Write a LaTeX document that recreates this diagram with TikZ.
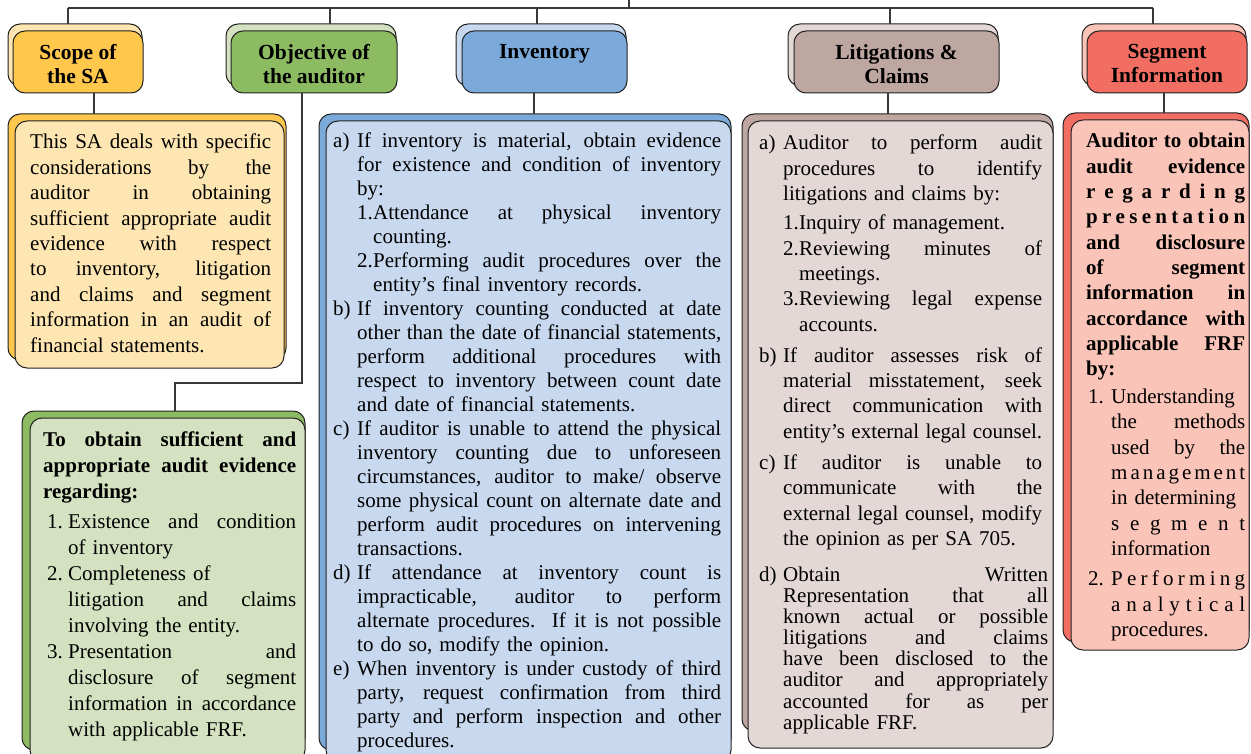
\documentclass[tikz,border=0pt]{standalone}
\usepackage{fontspec}
\setmainfont{Liberation Serif}
\usetikzlibrary{calc}
\setlength\parindent{0pt}
\setlength\parskip{0pt}

\definecolor{scopeD}{HTML}{FFC84C}
\definecolor{scopeL}{HTML}{FEE6B2}
\definecolor{objD}{HTML}{8CBB61}
\definecolor{objL}{HTML}{D5E2C1}
\definecolor{invD}{HTML}{7BAADA}
\definecolor{invL}{HTML}{C8D8EE}
\definecolor{litD}{HTML}{BEA6A1}
\definecolor{litL}{HTML}{E3D8D5}
\definecolor{segD}{HTML}{F26E62}
\definecolor{segL}{HTML}{FAC4B8}
\definecolor{ink}{HTML}{222222}

% extra width for justified lines
\newdimen\xw \xw=0pt
% justified line: [label]{indent}{text}
\newcommand\jline[3][]{\noindent\rlap{#1}\hspace*{#2}\makebox[\dimexpr\hsize-#2+\xw\relax][s]{\spaceskip=0pt\xspaceskip=0pt\strut#3}\par}
% ragged line: [label]{indent}{text}
\newcommand\rline[3][]{\noindent\rlap{#1}\hspace*{#2}{\strut#3}\par}
% box: name, x, y, width, height, fill
\newcommand\bx[6]{\node[boxshape, fill=#6, minimum width=#4pt, minimum height=#5pt] (#1) at (#2,#3) {};}

\tikzset{
  boxshape/.style={draw=ink, line width=1pt, rounded corners=12pt, anchor=north west, inner sep=0pt, outer sep=0pt},
  link/.style={draw=ink!90, line width=1.3pt},
  head/.style={font=\fontsize{21.5}{24}\selectfont\bfseries, align=center, anchor=north, inner sep=0pt},
  body/.style={anchor=base west, inner sep=0pt, font=\fontsize{21}{25.4}\selectfont},
}

\begin{document}
\begin{tikzpicture}[x=1pt,y=-1pt]
\fill[white] (0,0) rectangle (1251,754);
\useasboundingbox (0,0) rectangle (1251,754);

% header boxes (back copy, then front)
\bx{hScopeB}{8}{24}{134}{62}{scopeL}
\bx{hScope}{13}{31}{130}{62}{scopeD}
\bx{hObjB}{226}{24}{170}{62}{objL}
\bx{hObj}{231}{31}{166}{62}{objD}
\bx{hInvB}{456}{24}{170}{62}{invL}
\bx{hInv}{462}{31}{165}{62}{invD}
\bx{hLitB}{788}{24}{210}{62}{litL}
\bx{hLit}{794}{31}{205}{62}{litD}
\bx{hSegB}{1082}{24}{164}{62}{segL}
\bx{hSeg}{1087}{31}{160}{62}{segD}

\node[head] (tScope) at (hScope.north |- 0,44) {Scope of\\the SA};
\node[head] (tObj) at (hObj.north |- 0,44) {Objective of\\the auditor};
\node[head] (tInv) at (hInv.north |- 0,44) {Inventory};
\node[head] (tLit) at (hLit.north |- 0,44) {Litigations \&\\Claims};
\node[head] (tSeg) at (hSeg.north |- 0,44) {Segment\\Information};

% content boxes
\bx{cScopeB}{8}{114}{278}{246}{scopeD}
\bx{cScope}{15}{121}{269}{247}{scopeL}
\bx{cObjB}{22}{411}{283}{339}{objD}
\bx{cObj}{30}{418}{275}{344}{objL}
\bx{cInvB}{319}{114}{412}{636}{invD}
\bx{cInv}{326}{121}{405}{641}{invL}
\bx{cLitB}{742}{114}{311}{617}{litD}
\bx{cLit}{748}{121}{305}{627}{litL}
\bx{cSegB}{1063}{113}{186}{529}{segD}
\bx{cSeg}{1071}{120}{178}{530}{segL}

% connectors
\coordinate (top) at (629,0);
\coordinate (busL) at (68,8);
\coordinate (busR) at (1153,8);
\coordinate (dObj) at (330,8);
\coordinate (dInv) at (537,8);
\coordinate (dLit) at (890,8);
\draw[link] (top) -- (top |- busL);
\draw[link] (busL) -- (busR);
\draw[link] (busL) -- (busL |- hScopeB.north);
\draw[link] (dObj) -- (dObj |- hObjB.north);
\draw[link] (dInv) -- (dInv |- hInvB.north);
\draw[link] (dLit) -- (dLit |- hLitB.north);
\draw[link] (busR) -- (busR |- hSegB.north);

\coordinate (sScope) at (94,0);
\coordinate (sInv) at (534,0);
\coordinate (sLit) at (888,0);
\coordinate (sSeg) at (1164,0);
\coordinate (oA) at (302,0);
\coordinate (oB) at (175,383);
\draw[link] (hScope.south -| sScope) -- (cScopeB.north -| sScope);
\draw[link] (hInv.south -| sInv) -- (cInvB.north -| sInv);
\draw[link] (hLit.south -| sLit) -- (cLitB.north -| sLit);
\draw[link] (hSeg.south -| sSeg) -- (cSegB.north -| sSeg);
\draw[link] (hObj.south -| oA) |- (oB) -- (oB |- cObjB.north);

% texts
\node[body, text width=241pt] (bScope) at (30,149) {%
\jline{0pt}{This SA deals with specific}
\jline{0pt}{considerations by the}
\jline{0pt}{auditor in obtaining}
\jline{0pt}{sufficient appropriate audit}
\jline{0pt}{evidence with respect}
\jline{0pt}{to inventory, litigation}
\jline{0pt}{and claims and segment}
\jline{0pt}{information in an audit of}
\rline{0pt}{financial statements.}};

\node[body, text width=253pt, font=\fontsize{21}{26}\selectfont] (bObj) at (43,446) {%
\jline{0pt}{\bfseries To obtain sufficient and}
\jline{0pt}{\bfseries appropriate audit evidence}
\rline{0pt}{\bfseries regarding:}
\vspace{4pt}
\jline[\hspace*{4pt}1.]{25pt}{Existence and condition}
\rline{25pt}{of inventory}
\rline[\hspace*{4pt}2.]{25pt}{Completeness of}
\jline{25pt}{litigation and claims}
\rline{25pt}{involving the entity.}
\jline[\hspace*{4pt}3.]{25pt}{Presentation and}
\jline{25pt}{disclosure of segment}
\jline{25pt}{information in accordance}
\rline{25pt}{with applicable FRF.}};

\node[body, text width=388pt, font=\fontsize{21}{24}\selectfont] (bInv) at (333,148) {%
\jline[a)]{24pt}{If inventory is material, obtain evidence}
\jline{24pt}{for existence and condition of inventory}
\rline{24pt}{by:}
\jline[\hspace*{24pt}1.]{40pt}{Attendance at physical inventory}
\rline{40pt}{counting.}
\jline[\hspace*{24pt}2.]{40pt}{Performing audit procedures over the}
\rline{40pt}{entity's final inventory records.}
\jline[b)]{24pt}{If inventory counting conducted at date}
\jline{24pt}{other than the date of financial statements,}
\jline{24pt}{perform additional procedures with}
\jline{24pt}{respect to inventory between count date}
\rline{24pt}{and date of financial statements.}
\jline[c)]{24pt}{If auditor is unable to attend the physical}
\jline{24pt}{inventory counting due to unforeseen}
\jline{24pt}{circumstances, auditor to make/ observe}
\jline{24pt}{some physical count on alternate date and}
\jline{24pt}{perform audit procedures on intervening}
\rline{24pt}{transactions.}
\jline[d)]{24pt}{If attendance at inventory count is}
\jline{24pt}{impracticable, auditor to perform}
\jline{24pt}{alternate procedures. If it is not possible}
\rline{24pt}{to do so, modify the opinion.}
\jline[e)]{24pt}{When inventory is under custody of third}
\jline{24pt}{party, request confirmation from third}
\jline{24pt}{party and perform inspection and other}
\rline{24pt}{procedures.}};

\node[body, text width=283pt, font=\fontsize{21}{25.3}\selectfont] (bLit) at (759,150) {%
\jline[a)]{24pt}{Auditor to perform audit}
\jline{24pt}{procedures to identify}
\rline{24pt}{litigations and claims by:}
\vspace{4pt}
\rline[\hspace*{24pt}1.]{40pt}{Inquiry of management.}
\jline[\hspace*{24pt}2.]{40pt}{Reviewing minutes of}
\rline{40pt}{meetings.}
\jline[\hspace*{24pt}3.]{40pt}{Reviewing legal expense}
\rline{40pt}{accounts.}
\vspace{6pt}
\jline[b)]{24pt}{If auditor assesses risk of}
\jline{24pt}{material misstatement, seek}
\jline{24pt}{direct communication with}
\jline{24pt}{entity's external legal counsel.}
\vspace{6pt}
\jline[c)]{24pt}{If auditor is unable to}
\jline{24pt}{communicate with the}
\jline{24pt}{external legal counsel, modify}
\rline{24pt}{the opinion as per SA 705.}
\vspace{13pt}
\fontsize{21}{21}\selectfont\xw=6pt
\jline[d)]{24pt}{Obtain Written}
\jline{24pt}{Representation that all}
\jline{24pt}{known actual or possible}
\jline{24pt}{litigations and claims}
\jline{24pt}{have been disclosed to the}
\jline{24pt}{auditor and appropriately}
\jline{24pt}{accounted for as per}
\rline{24pt}{applicable FRF.}};

\node[body, text width=159pt, font=\fontsize{21}{25.3}\selectfont] (bSeg) at (1086,148) {%
\jline{0pt}{\bfseries Auditor to obtain}
\jline{0pt}{\bfseries audit evidence}
\jline{0pt}{\bfseries r\hfill e\hfill g\hfill a\hfill r\hfill d\hfill i\hfill n\hfill g}
\jline{0pt}{\bfseries p\hfill r\hfill e\hfill s\hfill e\hfill n\hfill t\hfill a\hfill t\hfill i\hfill o\hfill n}
\jline{0pt}{\bfseries and disclosure}
\jline{0pt}{\bfseries of segment}
\jline{0pt}{\bfseries information in}
\jline{0pt}{\bfseries accordance with}
\jline{0pt}{\bfseries applicable FRF}
\rline{0pt}{\bfseries by:}
\vspace{2.7pt}
\rline[\hspace*{2pt}1.]{25pt}{Understanding}
\jline{25pt}{the methods}
\jline{25pt}{used by the}
\jline{25pt}{m\hfill a\hfill n\hfill a\hfill g\hfill e\hfill m\hfill e\hfill n\hfill t}
\rline{25pt}{in determining}
\jline{25pt}{s\hfill e\hfill g\hfill m\hfill e\hfill n\hfill t}
\rline{25pt}{information}
\vspace{5pt}
\jline[\hspace*{2pt}2.]{25pt}{P\hfill e\hfill r\hfill f\hfill o\hfill r\hfill m\hfill i\hfill n\hfill g}
\jline{25pt}{a\hfill n\hfill a\hfill l\hfill y\hfill t\hfill i\hfill c\hfill a\hfill l}
\rline{25pt}{procedures.}};
\end{tikzpicture}
\end{document}
